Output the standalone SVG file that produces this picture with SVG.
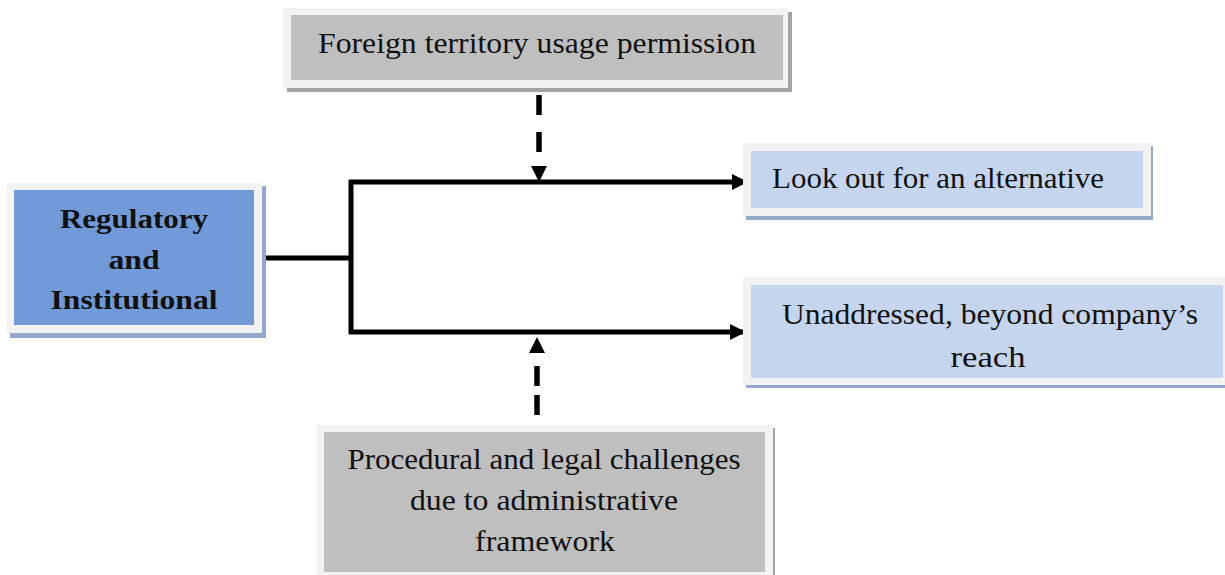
<svg xmlns="http://www.w3.org/2000/svg" width="1225" height="575" viewBox="0 0 1225 575">
<defs>
<style>
.outer{fill:#f2f2f2}
.gray{fill:#bfbfbf}
.blue{fill:#729ad8}
.lblue{fill:#c6d5ee}
.gshadow{fill:#a3a3a3}
.bshadow{fill:#94a8cc}
.t{font-family:"Liberation Serif","Times New Roman",serif;font-size:29px;fill:#111;text-anchor:middle}
.tb{font-family:"Liberation Serif","Times New Roman",serif;font-size:28px;font-weight:bold;fill:#111;text-anchor:middle}
.line{stroke:#000;stroke-width:5;fill:none}
.dash{stroke:#000;stroke-width:5.5;fill:none;stroke-dasharray:20 17}
</style>
<marker id="ah" markerWidth="16" markerHeight="16" viewBox="0 0 16 16" refX="15" refY="8" orient="auto" markerUnits="userSpaceOnUse">
<path d="M0,0 L16,8 L0,16 Z" fill="#000"/>
</marker>
</defs>
<rect width="1225" height="575" fill="#fff"/>

<g id="connectors">
<path class="line" d="M265,258 H351"/>
<path class="line" d="M351,180 V334"/>
<path class="line" d="M349,182 H747" marker-end="url(#ah)"/>
<path class="line" d="M349,332 H745" marker-end="url(#ah)"/>
<path class="dash" d="M539,95 V160"/>
<path d="M531,166 L547,166 L539,182 Z" fill="#000"/>
<path class="dash" d="M537,366 V388 M537,395 V426"/>
<path d="M529,353 L545,353 L537,337 Z" fill="#000"/>
</g>

<g id="node-foreign">
<rect class="gshadow" x="287" y="12" width="505" height="80"/>
<rect class="outer" x="283" y="8" width="505" height="80"/>
<rect class="gray" x="291" y="15" width="492" height="65"/>
<text class="t" x="537" y="53" textLength="438" lengthAdjust="spacingAndGlyphs">Foreign territory usage permission</text>
</g>

<g id="node-regulatory">
<rect class="bshadow" x="10" y="186" width="256" height="152"/>
<rect class="outer" x="7" y="183" width="255" height="150"/>
<rect class="blue" x="14" y="190" width="240" height="135"/>
<text class="tb" x="134" y="228" textLength="148" lengthAdjust="spacingAndGlyphs">Regulatory</text>
<text class="tb" x="134" y="269" textLength="51" lengthAdjust="spacingAndGlyphs">and</text>
<text class="tb" x="134" y="309" textLength="167" lengthAdjust="spacingAndGlyphs">Institutional</text>
</g>

<g id="node-alternative">
<rect class="bshadow" x="746" y="146" width="407" height="74"/>
<rect class="outer" x="743" y="143" width="408" height="73"/>
<rect class="lblue" x="751" y="151" width="392" height="57"/>
<text class="t" x="772" y="188" style="text-anchor:start" textLength="332" lengthAdjust="spacingAndGlyphs">Look out for an alternative</text>
</g>

<g id="node-unaddressed">
<rect class="bshadow" x="746" y="280" width="479" height="108"/>
<rect class="outer" x="743" y="277" width="482" height="108"/>
<rect class="lblue" x="751" y="285" width="472" height="93"/>
<text class="t" x="990" y="324" textLength="416" lengthAdjust="spacingAndGlyphs">Unaddressed, beyond company’s</text>
<text class="t" x="988" y="367" textLength="75" lengthAdjust="spacingAndGlyphs">reach</text>
</g>

<g id="node-procedural">
<rect class="gshadow" x="321" y="428" width="454" height="150"/>
<rect class="outer" x="317" y="425" width="456" height="150"/>
<rect class="gray" x="324" y="432" width="441" height="140"/>
<text class="t" x="544" y="469" textLength="393" lengthAdjust="spacingAndGlyphs">Procedural and legal challenges</text>
<text class="t" x="544" y="510" textLength="268" lengthAdjust="spacingAndGlyphs">due to administrative</text>
<text class="t" x="545" y="551" textLength="140" lengthAdjust="spacingAndGlyphs">framework</text>
</g>
</svg>
